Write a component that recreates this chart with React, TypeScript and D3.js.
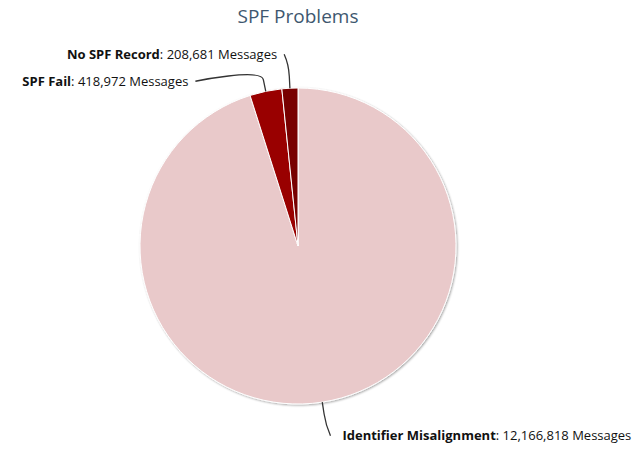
import { useEffect, useRef } from "react";
import * as d3 from "d3";

const categories = ["Identifier Misalignment", "SPF Fail", "No SPF Record"];
const values = [12166818, 418972, 208681];
const colors = ["#e9c9ca", "#990000", "#780000"];
const title = "SPF Problems";

export default function App() {
    const svgRef = useRef<SVGSVGElement>(null);

    useEffect(() => {
        if (!svgRef.current) return;
        const svg = d3.select(svgRef.current);
        svg.selectAll("*").remove();

        const width = 637, height = 449;
        const cx = 298, cy = 246, r = 158;
        const labelR = 192;
        const font = "'Open Sans', 'DejaVu Sans', sans-serif";

        svg.attr("width", width).attr("height", height);

        // Shadow
        const defs = svg.append("defs");
        const f = defs.append("filter").attr("id", "pieShadow")
            .attr("x", "-10%").attr("y", "-10%").attr("width", "120%").attr("height", "120%");
        f.append("feDropShadow").attr("dx", 1).attr("dy", 1).attr("stdDeviation", 1.2)
            .attr("flood-color", "#000").attr("flood-opacity", 0.35);

        // Title
        svg.append("text")
            .attr("x", cx)
            .attr("y", 23)
            .attr("text-anchor", "middle")
            .attr("font-family", font)
            .attr("font-size", "19px")
            .attr("fill", "#3e576f")
            .text(title);

        const data = categories.map((c, i) => ({ name: c, value: values[i], color: colors[i] }));
        const pie = d3.pie<any>().sort(null).value(d => d.value).startAngle(0).endAngle(2 * Math.PI);
        const arcs = pie(data);
        const arc = d3.arc<any>().innerRadius(0).outerRadius(r);

        const g = svg.append("g").attr("transform", `translate(${cx},${cy})`);
        g.append("g").attr("filter", "url(#pieShadow)")
            .selectAll("path")
            .data(arcs)
            .enter().append("path")
            .attr("d", arc)
            .attr("fill", d => d.data.color)
            .attr("stroke", "#fff")
            .attr("stroke-width", 1)
            .attr("stroke-linejoin", "round");

        // Label layout (Highcharts-like)
        const pt = (a: number, rad: number) => [cx + rad * Math.sin(a), cy - rad * Math.cos(a)];
        const labels = arcs.map(d => {
            const a = (d.startAngle + d.endAngle) / 2;
            const left = Math.sin(a) < 0;
            return { d, a, left, y: cy - labelR * Math.cos(a) };
        });

        // collision avoidance per side (push down)
        [true, false].forEach(side => {
            const ls = labels.filter(l => l.left === side).sort((p, q) => p.y - q.y);
            for (let i = 1; i < ls.length; i++) {
                if (ls[i].y - ls[i - 1].y < 27) ls[i].y = ls[i - 1].y + 27;
            }
        });

        labels.forEach(l => {
            const dy = l.y - cy;
            const dx = Math.sqrt(Math.max(0, labelR * labelR - dy * dy));
            const x = l.left ? cx - dx - 4 : cx + dx + 3;
            const [ex, ey] = pt(l.a, r);
            const [bx, by] = pt(l.a, r + 12);
            const path = `M${x},${l.y} C${x},${l.y} ${2 * bx - ex},${2 * by - ey} ${bx},${by} L${ex},${ey}`;
            svg.append("path")
                .attr("d", path)
                .attr("fill", "none")
                .attr("stroke", "#333")
                .attr("stroke-width", 1.3);

            const t = svg.append("text")
                .attr("x", l.left ? x - 7 : x + 12)
                .attr("y", l.y)
                .attr("dy", "0.35em")
                .attr("text-anchor", l.left ? "end" : "start")
                .attr("font-family", font)
                .attr("font-size", "13px")
                .attr("fill", "#111");
            t.append("tspan").attr("font-weight", "bold").text(l.d.data.name);
            t.append("tspan").text(`: ${d3.format(",")(l.d.data.value)} Messages`);
        });
    }, []);

    return <svg ref={svgRef} style={{ position: "absolute", left: 0, top: 0 }}></svg>;
}
